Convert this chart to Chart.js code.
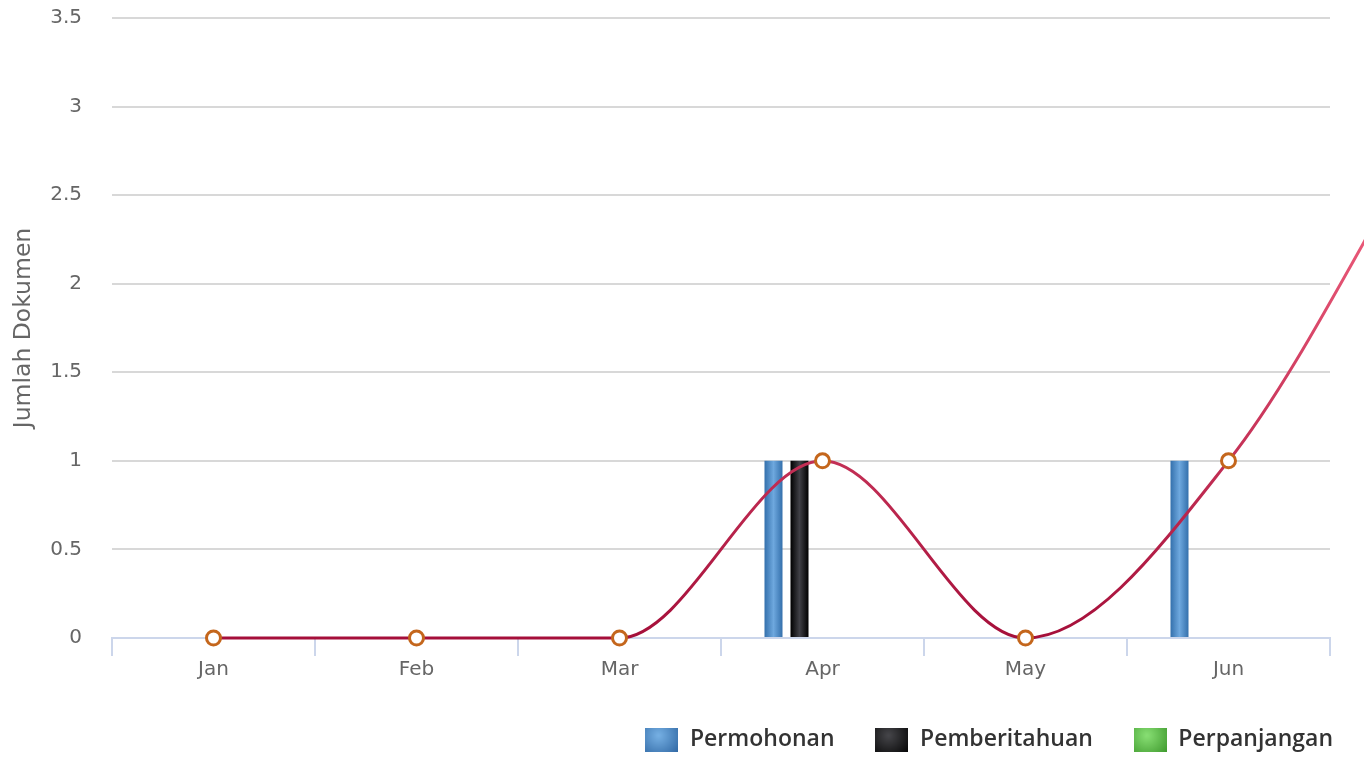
<!DOCTYPE html>
<html>
<head>
<meta charset="utf-8">
<script src="https://cdn.jsdelivr.net/npm/chart.js@4"></script>
<style>
html, body { margin: 0; padding: 0; background: #fff; }
#wrap { width: 1364px; height: 758px; }
</style>
</head>
<body>
<div id="wrap"><canvas id="chartCanvas"></canvas></div>
<script>
// categories; trendLine has one extra value (Jul) so the spline runs off the right edge
const months = ["Jan", "Feb", "Mar", "Apr", "May", "Jun"];
const permohonan = [0, 0, 0, 1, 0, 1];
const pemberitahuan = [0, 0, 0, 1, 0, 0];
const perpanjangan = [0, 0, 0, 0, 0, 0];
const trendLine = [0, 0, 0, 1, 0, 1, 2.9];
const yMin = 0, yMax = 3.5, yStep = 0.5;

const tickFont = { family: "DejaVu Sans", size: 20 };

function barFill(light, dark) {
    return function (ctx) {
        const el = ctx.element;
        if (!el || el.x === undefined || !el.width) return dark;
        const half = el.width / 2;
        const g = ctx.chart.ctx.createLinearGradient(el.x - half, 0, el.x + half, 0);
        g.addColorStop(0, dark);
        g.addColorStop(0.5, light);
        g.addColorStop(1, dark);
        return g;
    };
}

function lineStroke(ctx) {
    const chart = ctx.chart;
    if (!chart.chartArea || !chart.scales.y) return "#b01a44";
    const y0 = chart.scales.y.getPixelForValue(0);
    const y1 = chart.scales.y.getPixelForValue(2.5);
    const g = chart.ctx.createLinearGradient(0, y0, 0, y1);
    g.addColorStop(0, "#a50f3a");
    g.addColorStop(1, "#f0607e");
    return g;
}

function legendBox(light, dark) {
    const c = document.createElement("canvas");
    c.width = 33;
    c.height = 24;
    const g2 = c.getContext("2d");
    const g = g2.createRadialGradient(13, 8, 1, 13, 8, 26);
    g.addColorStop(0, light);
    g.addColorStop(1, dark);
    g2.fillStyle = g;
    g2.fillRect(0, 0, 33, 24);
    return c;
}

const legendStyles = [
    legendBox("#74aee2", "#2f67a3"),
    legendBox("#444448", "#050505"),
    legendBox("#86dd72", "#3f9a2e")
];

const toXY = arr => arr.map((v, i) => ({ x: i, y: v }));

// the legend row carries a trailing gap; push it right so the text ends at the plot edge
const legendShift = {
    id: "legendShift",
    afterLayout(chart) {
        if (chart.legend) {
            chart.legend.left += 44;
            chart.legend.right += 44;
        }
    }
};

// each column series sits in its own slot inside the month, left of the centre
function slotAxis(shift) {
    return { type: "linear", display: false, offset: false, bounds: "data", min: -0.5 + shift, max: 5.5 + shift };
}

function barSet(label, values, axisId, light, dark) {
    return {
        type: "bar",
        label: label,
        data: toXY(values),
        xAxisID: axisId,
        grouped: false,
        barThickness: 18,
        inflateAmount: 0,
        backgroundColor: barFill(light, dark),
        order: 0
    };
}

const ctx = document.getElementById("chartCanvas").getContext("2d");
const chart = new Chart(ctx, {
    data: {
        labels: months,
        datasets: [
            barSet("Permohonan", permohonan, "xb0", "#6ea8de", "#3470ac"),
            barSet("Pemberitahuan", pemberitahuan, "xb1", "#404046", "#000000"),
            barSet("Perpanjangan", perpanjangan, "xb2", "#7fd66a", "#45a334"),
            {
                type: "line",
                label: "",
                data: toXY(trendLine),
                xAxisID: "xl",
                borderColor: lineStroke,
                borderWidth: 3,
                cubicInterpolationMode: "monotone",
                pointRadius: 7,
                pointHoverRadius: 7,
                pointBorderWidth: 3,
                pointBackgroundColor: "#ffffff",
                pointBorderColor: "#c4661c",
                clip: false,
                order: -1
            }
        ]
    },
    plugins: [legendShift],
    options: {
        responsive: true,
        maintainAspectRatio: false,
        animation: false,
        layout: { padding: { left: 0, right: 34, top: 18, bottom: -3 } },
        plugins: {
            tooltip: { enabled: false },
            legend: {
                position: "bottom",
                align: "end",
                labels: {
                    usePointStyle: true,
                    pointStyleWidth: 33,
                    padding: 41,
                    color: "#333333",
                    font: { family: "Open Sans", size: 23, weight: "600" },
                    filter: item => item.text !== "",
                    generateLabels: function (c) {
                        const items = Chart.defaults.plugins.legend.labels.generateLabels(c);
                        items.forEach(it => {
                            if (legendStyles[it.datasetIndex]) it.pointStyle = legendStyles[it.datasetIndex];
                        });
                        return items;
                    }
                }
            }
        },
        scales: {
            x: {
                type: "category",
                offset: true,
                grid: {
                    offset: true,
                    drawOnChartArea: false,
                    drawTicks: true,
                    tickLength: 18,
                    color: "#ccd6eb",
                    lineWidth: 2
                },
                border: { display: true, color: "#ccd6eb", width: 2 },
                ticks: { color: "#666666", font: tickFont, padding: 2, maxRotation: 0 },
                afterFit: s => { s.height = 49; }
            },
            xl: slotAxis(0),
            xb0: slotAxis(0.2414),
            xb1: slotAxis(0.1133),
            xb2: slotAxis(-0.0148),
            y: {
                min: yMin,
                max: yMax,
                ticks: {
                    stepSize: yStep,
                    color: "#666666",
                    font: tickFont,
                    padding: 0,
                    callback: v => String(v)
                },
                grid: {
                    color: "#d8d8d8",
                    lineWidth: 2,
                    drawTicks: true,
                    tickLength: 30,
                    tickColor: "rgba(0,0,0,0)"
                },
                border: { display: false },
                title: {
                    display: true,
                    text: "Jumlah Dokumen",
                    color: "#666666",
                    font: { family: "DejaVu Sans", size: 23.5 },
                    padding: { top: 10, bottom: 0 }
                },
                afterFit: s => { s.width = 112; }
            }
        }
    }
});
// second pass so the bar gradients can read the laid-out bar geometry
chart.update();
</script>
</body>
</html>
